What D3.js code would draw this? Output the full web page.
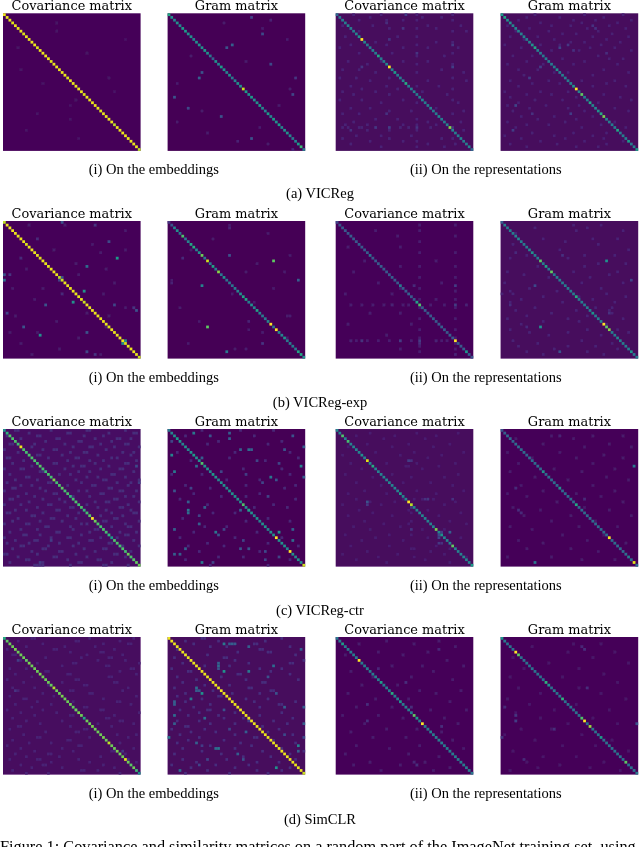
<!DOCTYPE html>
<html><head><meta charset="utf-8">
<script src="https://cdn.jsdelivr.net/npm/d3@7"></script>
<style>html,body{margin:0;padding:0;background:#fff;overflow:hidden}svg{display:block}</style>
</head><body><svg id="c" width="640" height="847"></svg>
<script>
// Labels
const panelTitles = ["Covariance matrix","Gram matrix","Covariance matrix","Gram matrix"];
const subCaptions = ["(i) On the embeddings","(ii) On the representations"];
const rowCaptions = ["(a) VICReg","(b) VICReg-exp","(c) VICReg-ctr","(d) SimCLR"];
const figureCaption = "Figure 1: Covariance and similarity matrices on a random part of the ImageNet training set, using";

// Matrix diagonals (50 cells, colour value 0..1)
const d00 = [.97,.97,.97,.95,.97,.97,.97,.95,.97,.97,.97,.97,.95,.97,.97,.97,.97,.95,.97,.97,.97,.97,.97,.95,.97,.97,.97,.97,.97,.95,.97,.97,.97,.97,.97,.95,.97,.97,.97,.97,.9,.97,.97,.97,.97,.97,.97,.97,.97,.9];
const d01 = [.6,.5,.45,.5,.45,.55,.55,.5,.5,.45,.5,.5,.5,.55,.5,.4,.3,.5,.45,.55,.5,.45,.5,.4,.45,.5,.5,.92,.55,.5,.55,.5,.5,.55,.45,.45,.55,.45,.55,.5,.55,.45,.5,.5,.45,.4,.45,.55,.68,.4];
const d02 = [.35,.4,.42,.42,.45,.42,.42,.45,.5,1,.45,.42,.42,.45,.42,.6,.42,.42,.45,1,.45,.55,.42,.42,.45,.62,.42,.42,.45,.42,.42,.45,.42,.42,.45,.42,.42,.45,.42,.42,.45,.82,.45,.42,.42,.45,.42,.42,.45,.35];
const d03 = [.55,.6,.5,.5,.45,.45,.45,.45,.45,.42,.45,.5,.6,.45,.42,.4,.42,.42,.42,.42,.5,.42,.42,.42,.42,.45,.5,1,.45,.75,.42,.42,.6,.45,.45,.5,.62,.8,.45,.42,.42,.42,.6,.42,.42,.42,.55,.42,.45,.55];
const d10 = [.9,.97,.97,.97,.97,.97,.97,.97,.95,.97,.97,.97,.97,.95,.97,.97,.97,.97,.97,.97,.9,.92,.97,.97,.97,.97,.97,.97,.97,.92,.97,.97,.97,.97,.97,.97,.97,.97,.95,.97,.97,.97,.97,.97,.95,.97,.97,.97,.97,.92];
const d11 = [.15,.25,.45,.5,.4,.72,.4,.45,.6,.62,.45,.5,.78,.4,.92,.4,.58,.42,.82,.4,.5,.38,.4,.38,.42,.45,.5,.58,.6,.42,.5,.45,.58,.45,.4,.4,.45,1,.4,1,.45,.45,.5,.4,.42,.42,.4,.58,.6,.5];
const d12 = [.2,.25,.28,.28,.28,.3,.28,.28,.3,.28,.28,.3,.38,.28,.28,.28,.3,.28,.28,.28,.3,.28,.28,.42,.28,.28,.3,.28,.28,.58,.72,.28,.3,.28,.28,.3,.28,.28,.3,.28,.28,.3,.28,1,.28,.28,.3,.52,.3,.25];
const d13 = [.3,.45,.42,.42,.42,.45,.45,.42,.42,.42,.45,.5,.42,.42,.75,.42,.58,.42,.76,.42,.42,.42,.42,.42,.42,.42,.42,.62,.42,.42,.42,.42,.42,.52,.42,.42,.45,1,.75,.82,.42,.42,.45,.42,.42,.42,.42,.52,.42,.42];
const d20 = [.5,.65,.72,.72,.72,.7,.98,.72,.7,.72,.72,.72,.7,.74,.7,.68,.72,.7,.82,.7,.72,.75,.7,.72,.66,.7,.72,.7,.72,.66,.7,.74,1,.78,.72,.7,.72,.7,.66,.55,.72,.72,.7,.72,.7,.78,.72,.74,.76,.78];
const d21 = [.4,.45,.5,.55,.5,.45,.5,.45,.5,.55,.5,.5,.72,.5,.5,.45,.55,.5,.45,.5,.5,.45,.5,.5,.5,.5,.5,.72,.5,.58,.5,.45,.5,.45,.5,.5,.45,.5,.5,1,.5,.5,.5,.45,1,.5,.45,.5,.5,.92];
const d22 = [.45,.45,.72,.45,.7,.45,.45,.45,.45,.5,.45,.95,.45,.62,.45,.45,.45,.45,.45,.45,.45,.45,.45,.55,.45,.45,1,.9,.45,.45,.45,.45,.45,.45,.45,.45,.8,.45,.52,.45,.45,.45,.76,.45,.45,.45,.45,.45,.45,.55];
const d23 = [.25,.3,.35,.35,.32,.35,.35,.35,.35,.32,.35,.35,.35,.35,.35,.5,.35,.35,.35,.35,.35,.5,.35,.35,.35,.35,.35,.6,.35,.35,.35,.35,.35,.35,.35,.35,.35,.35,.35,1,.35,.35,.35,.35,.35,.35,.42,.35,.96,.35];
const d30 = [.62,.75,.78,.78,.8,.78,.78,.78,.76,.8,.78,.78,.78,.8,.78,.78,.78,.76,.88,.78,.78,.8,.78,.78,.78,.76,.78,.8,.78,.6,.78,.78,.8,.78,.78,.78,.8,.78,.9,.78,.78,.8,.78,.78,.96,.78,.74,.78,.68,.48];
const d31 = [.97,.97,.97,.97,.97,.97,.97,.97,.97,.97,.97,.97,.97,.97,.97,.97,.97,.97,.97,.97,.97,.97,.97,.97,.97,.97,.97,.97,.97,.97,.97,.97,.97,.97,.97,.97,.97,.97,.97,.97,.97,.97,.97,.97,.97,.97,.97,.97,.97,.92];
const d32 = [.4,.42,.56,.42,.42,.42,.42,.42,1,.42,.42,.42,.42,.42,.42,.42,.56,.42,.42,.42,.62,.42,.42,.52,.42,.42,.42,.42,.75,.56,.42,1,.42,.42,.42,.42,.42,.42,.42,.42,.42,.42,.42,.42,.42,.42,.42,.42,.42,.4];
const d33 = [.52,.4,.38,.38,.38,1,.75,.38,.38,.38,.38,.38,.38,.38,.38,.38,.65,.5,.38,.42,.38,.38,.65,.38,.38,.38,.38,.38,.38,.72,1,.38,.85,.38,.38,.38,.55,.38,.38,.38,.38,.38,.38,.38,.38,.75,.38,.38,.38,.4];

// Bright off-diagonal cells: [row, column, value]
const s00 = [];
const s01 = [[1,30,.2],[7,34,.22],[11,23,.3],[12,21,.25],[18,37,.22],[21,12,.25],[23,11,.3],[23,46,.15],[29,45,.2],[30,2,.25],[34,7,.22],[37,19,.25],[45,30,.25],[2,37,.1],[49,45,.12],[46,25,.1]];
const s02 = [[9,19,.15],[19,9,.15],[41,19,.18],[41,14,.16],[41,29,.15],[19,42,.18],[11,42,.16],[14,29,.15],[5,24,.15],[0,25,.18],[3,18,.13],[41,42,.15],[36,18,.14],[42,5,.14]];
const s03 = [[12,21,.2],[11,24,.16],[19,14,.18],[23,10,.18],[4,33,.14],[5,34,.14],[33,5,.2],[36,25,.18],[42,4,.18],[36,11,.14],[13,26,.14],[14,38,.13]];
const s10 = [[13,41,.55],[16,30,.35],[25,29,.5],[29,25,.5],[30,15,.25],[41,13,.5],[44,43,.5],[43,44,.5],[21,0,.35],[19,0,.25],[7,38,.22],[1,33,.15],[0,21,.25],[32,48,.25],[30,40,.2],[38,7,.25],[40,30,.25],[47,30,.2],[48,33,.15],[20,21,.25],[21,20,.2],[13,6,.12],[6,12,.12],[19,2,.15],[31,47,.15],[33,1,.2],[26,21,.12]];
const s11 = [[14,38,.75],[12,22,.25],[23,12,.45],[38,14,.75],[47,21,.4],[21,47,.3],[44,34,.15],[13,5,.12],[34,44,.08],[2,22,.1],[22,1,.1],[36,29,.1],[40,34,.08],[46,28,.08]];
const s12 = [[43,5,.1],[43,9,.14],[43,23,.17],[43,30,.17],[43,36,.1],[30,43,.17],[23,43,.17],[48,43,.1],[44,30,.13],[23,28,.12],[30,20,.1],[30,47,.1]];
const s13 = [[14,38,.5],[38,14,.5],[23,12,.22],[21,47,.2],[47,21,.25],[12,22,.14],[11,5,.12],[33,39,.14],[38,9,.12],[30,3,.13]];
const s20 = [[13,48,.22],[19,49,.18],[40,17,.18],[48,13,.18]];
const s21 = [[1,9,.4],[2,15,.25],[1,22,.3],[3,22,.3],[9,1,.45],[7,29,.35],[7,30,.3],[7,26,.3],[13,48,.45],[6,49,.3],[15,2,.4],[13,10,.35],[17,37,.4],[18,39,.25],[19,34,.2],[17,49,.3],[22,2,.25],[26,7,.3],[29,7,.4],[30,7,.35],[28,13,.3],[29,26,.3],[29,29,.3],[36,2,.3],[34,11,.3],[37,17,.4],[38,18,.25],[36,20,.2],[37,40,.5],[36,45,.3],[40,45,.35],[45,2,.3],[43,6,.3],[45,4,.3],[48,12,.4],[43,29,.25],[43,26,.25],[48,16,.2],[47,35,.2],[46,40,.2],[15,19,.2],[2,45,.25],[7,42,.25],[11,32,.2],[4,1,.2],[10,12,.3],[24,36,.2],[31,11,.2],[40,27,.2],[44,35,.22],[21,8,.2],[16,28,.18],[12,40,.2]];
const s22 = [[26,11,.25],[11,26,.18],[37,41,.3],[38,37,.22],[41,37,.16],[36,27,.15],[25,33,.16],[25,32,.14],[39,37,.2],[27,11,.16],[41,38,.14],[37,38,.18],[28,27,.15],[11,27,.14],[25,42,.14]];
const s23 = [[13,48,.4],[48,12,.4],[30,7,.12],[29,6,.13],[21,5,.12],[2,21,.1],[25,30,.12]];
const s30 = [[8,5,.18],[19,4,.15],[26,26,.18],[41,43,.16],[44,45,.14]];
const s31 = [[2,23,.3],[2,22,.28],[2,24,.28],[10,18,.35],[12,20,.5],[12,29,.4],[18,10,.35],[20,12,.5],[23,2,.3],[24,2,.3],[22,8,.4],[28,2,.35],[31,2,.3],[36,0,.4],[29,13,.35],[40,18,.4],[40,17,.35],[39,47,.45],[41,47,.3],[47,39,.5],[2,20,.4],[3,29,.3],[4,48,.3],[10,38,.35],[20,39,.25],[25,42,.3],[25,49,.3],[31,49,.3],[34,28,.3],[38,10,.3],[48,4,.35],[42,25,.3],[9,18,.3],[11,18,.25],[19,10,.3],[19,11,.28],[6,6,.18],[14,36,.25],[26,20,.25],[35,42,.22],[44,27,.25],[36,49,.22],[44,14,.2],[33,22,.2],[39,12,.18],[46,11,.2],[30,29,.18]];
const s32 = [[16,25,.13],[24,11,.13],[25,27,.13],[4,37,.11],[30,11,.13],[32,38,.13],[46,29,.13],[45,28,.11],[11,15,.11]];
const s33 = [[31,49,.25],[30,5,.18],[36,0,.15],[28,5,.15],[25,1,.12],[4,30,.13],[3,29,.11],[44,8,.12],[18,31,.13],[33,19,.13]];

// Faint speckle cells per row: [row, column, column, ...]
const f00 = [[3,19],[6,19],[9,44],[12,5],[14,30],[20,6],[23,38],[25,14],[28,40],[31,26],[33,24],[36,12],[38,24],[42,8],[45,27]];
const f01 = [[3,20],[5,34],[9,43],[15,8],[17,28],[25,3],[27,44],[33,40],[35,12],[39,3],[41,33],[43,14],[47,36]];
const f02 = [[0,6,16,29,42],[1,12,31,38],[2,8,18,24,29,42],[4,2,13,33,45],[5,19,29,36],[6,8,42,47],[8,3,22,29],[10,14,36,42],[11,5,18,29],[12,1,24,33,44],[14,8,20,42],[15,29,39],[17,4,16,24,33],[18,11,29,42],[20,2,8,38],[21,14,29,46],[23,1,7,19,42],[24,12,33,47],[26,5,18,29,37],[27,9,22,42],[28,2,14,31],[29,6,19,40],[31,1,9,24,42],[32,16,29,44],[34,5,12,36],[35,19,27,46],[36,2,8,42],[38,14,22,29],[39,6,33,45],[40,3,11,24,29,36],[41,2,4,8,9,23,26,34],[42,11,19,29,46],[44,7,16,27],[45,2,19,38,42],[46,12,24,29],[47,5,33,43],[48,16,29,39]];
const f03 = [[0,12,30,44],[1,9,21,37],[2,6,26,34,47],[3,14,29,42],[4,2,18,25,39],[5,10,31,45],[6,5,17,35],[7,22,27,40],[8,3,13,33,46],[9,8,19,38],[10,25,30,43],[11,1,14,21,36],[12,7,32,41],[13,18,28,47],[15,4,11,35],[16,22,39,44],[17,9,30],[18,2,15,26,42],[20,6,13,37],[21,19,24,46],[22,8,33],[24,3,17,29,41],[25,11,21,38],[26,6,33,45],[28,1,14,24],[29,9,18,37],[30,3,27,43],[31,12,22,47],[32,6,35],[33,2,16,28],[34,10,24,41],[35,4,30,46],[37,7,19,33],[38,13,27],[39,2,23,41],[40,9,17,36],[41,5,29,45],[43,11,26,38],[44,1,19,33],[45,7,23,37],[46,14,30,44],[47,3,20,38],[48,9,27,35]];
const f10 = [[1,9,22],[3,44],[5,5],[8,32],[10,18,44],[11,35],[15,26],[17,8,37],[19,27],[22,40],[24,3,14],[26,36],[28,11],[31,44],[33,30],[34,4,38],[36,19],[38,37],[40,2,12],[42,27],[44,6],[46,20],[48,10,35]];
const f11 = [[1,22],[4,36],[6,16],[10,8],[12,44],[15,32],[18,28,42],[21,1],[24,38],[26,23],[29,31],[31,4],[34,43],[36,11],[39,29],[42,43],[44,7],[46,24]];
const f12 = [[1,30,43],[3,14,30],[5,22,43],[7,30],[9,4,23],[11,30,43],[14,10,36],[16,23,30,43],[18,6],[20,30,43],[22,15,38],[24,23,30],[25,43],[26,3,20],[28,30,36,43],[30,5,9,13,17,24,26,34,39],[31,30,43],[33,12,23],[35,30,43],[37,4,27],[39,30,43],[41,18],[42,30,43],[43,7,11,15,19,27,38,40],[44,43],[45,30],[46,43,23],[47,30]];
const f13 = [[1,26,36],[2,12,31],[3,27,44],[4,5],[6,15,33,42],[7,23],[8,4,35],[10,21,46],[12,9,30,41],[13,3,24],[15,35,45],[16,13,30],[18,2,26,42],[19,8,39],[20,17,32],[22,1,29,44],[24,10,36],[25,3,20],[26,0,4,38],[27,15,28,45],[28,7,33],[29,3,22,41],[31,12,34,40],[32,5,27,39],[33,18,40],[34,9,31],[35,2,24,44],[36,15,28],[37,7,38],[39,3,31,42],[40,10,24,46],[41,17,36],[43,4,29],[44,13,40],[45,6,24,34],[46,19,42],[47,9,31],[48,15,37]];
const f20 = [[0,4,5,17,30,31,44],[1,9,23,24,38,47,48],[2,1,12,13,29,36],[3,6,19,20,33,41,42,46],[4,15,27,28,39],[5,2,3,11,22,35,44,45],[6,10,25,31,32,40,49],[7,0,14,18,19,37],[8,5,24,29,30,43,47],[9,12,13,21,34,46],[10,1,2,16,26,27,39,41],[11,7,23,31,36,48],[12,3,18,19,33,44,45],[13,10,25,28,29,38],[14,0,6,7,22,35,42,43],[15,13,14,27,31,47],[16,2,20,24,39,40],[17,8,9,30,34,44],[18,4,12,26,36,37,49],[19,1,16,17,28,41,46],[20,6,10,23,32,33,45],[21,3,4,13,38,39],[22,0,15,27,30,42,43,48],[23,8,18,19,35,36],[24,5,11,25,31,44,47],[25,2,3,14,20,40,41],[26,9,22,33,37,38,49],[27,0,6,16,17,30,45],[28,12,24,25,34,42,43],[29,4,8,19,20,37,46],[30,1,2,14,27,39,47,48],[31,10,11,23,35,43],[32,5,17,18,26,40,41],[33,3,13,21,36,37,49],[34,0,8,9,28,30,44],[35,15,16,24,39,45,46],[36,6,12,25,33,34],[37,2,19,20,31,42,48],[38,7,8,13,28,44,45],[39,0,17,23,24,35,41],[40,4,11,12,31,32,47],[41,1,9,20,27,38,39],[42,6,7,16,25,43,49],[43,3,14,15,29,36,37],[44,10,20,21,33,46],[45,0,1,12,26,40,41],[46,5,18,19,30,44],[47,8,9,23,34,35,47],[48,2,14,27,28,39],[49,11,12,13,14,24,36,37,45]];
const f21 = [[0,12,26,38],[2,6,31],[4,18,41],[5,14,36],[8,3,24,44],[10,22,47],[11,8,35],[14,27,41],[16,1,12,44],[18,21,33],[20,6,28,46],[21,15,42],[23,9,33],[24,19,28],[25,4,46],[27,14,38],[28,31,43],[30,16,24],[32,5,36],[33,28,44],[35,13,21],[37,9,32],[39,4,24,41],[41,14,36],[42,7,20,47],[44,11,33],[46,18,27],[47,6,44],[49,15,36]];
const f22 = [[1,12,29,44],[2,7,21,36],[3,17,32],[5,11,26,41],[6,4,20,35],[8,14,28,46],[9,2,23,38],[10,10,33],[12,5,18,29,43],[13,25,26,37],[14,9,31],[16,3,20,44],[17,13,27,39],[19,7,24,34],[20,16,42],[22,10,29,46],[23,4,18,36],[25,7,24,28,31,35],[26,12,21,43],[27,2,16,39],[29,8,26,33],[30,13,27,45],[31,4,20,37],[33,10,27,41],[34,17,26,47],[35,6,23],[36,12,31,39],[38,3,19,27],[39,14,33,45],[40,9,24],[42,5,19,36],[43,27,28,41],[44,11,34],[45,2,22,39],[46,15,28,47],[47,7,32],[48,18,41]];
const f23 = [[2,18,33,44],[3,5,26],[5,15,39],[6,30,47],[8,2,21],[9,37],[10,11,27,44],[12,6,33],[14,19,41],[15,3,29],[17,12,38],[18,24,46],[20,7,33],[22,15,41],[23,2,27],[24,9,36],[26,20,44],[28,4,30],[29,14,39],[31,8,25,47],[33,18,34],[35,3,28,42],[36,11],[38,22,37],[40,6,31],[41,15,45],[43,9,25],[44,35],[46,2,18],[47,29,41]];
const f30 = [[0,10,11,31,47],[1,5,26,27,42],[2,14,36,45,46],[3,8,22,33],[4,1,18,19,40],[5,24,35,36],[6,3,4,30,43],[7,15,28,38,39],[8,6,34,44],[9,12,25,26,49],[10,21,37,38],[11,2,8,46,47],[12,15,16,42],[13,4,23,24,48],[14,10,38,39],[15,1,26,27],[16,7,21,40,41],[17,16,29,30],[18,3,11,45],[19,5,24,25,43],[20,14,31,32],[21,2,18,48],[22,7,8,36],[23,12,25,41,42],[24,4,17,46],[25,10,29,30],[26,1,14,35,36],[27,6,19,49],[28,11,24,25,40],[29,3,37,38],[30,8,21,42,43],[31,13,34,47],[32,5,6,24,39],[33,2,29,30],[34,15,26,27],[35,7,41,48],[36,12,13,31,45],[37,3,23,24],[38,9,17,42],[39,1,27,28],[40,6,21,47],[41,11,25,39,40],[42,4,16,17,44],[43,8,20,35],[44,2,12,13,27],[45,17,31,48],[46,6,14,15,36],[47,10,21,40],[48,3,28,29,34],[49,8,16,42]];
const f31 = [[0,12,13,41],[1,6,18,35],[2,9,31,32],[3,15,21,44],[4,3,33,34],[5,25,36,37],[6,14,46],[7,2,20,21],[8,8,24,49],[9,5,29,44,45],[10,13,22],[11,1,33,41],[12,7,8,37],[13,25,26,44],[14,3,19],[15,10,28,47],[16,5,34,35],[17,13,22],[18,2,29,30],[19,16,37,38],[20,6,23,33],[21,3,18,19],[22,12,28,36],[23,6,31,46],[24,15,40,41],[25,9,33],[26,4,14,15],[27,11,24,41],[28,7,18,33],[29,20,27,45],[30,3,11,38],[31,15,24,43],[32,6,7,34],[33,1,13,40],[34,8,17,36],[35,4,24,45],[36,11,31,32],[37,7,20,38],[38,3,26,46],[39,15,30],[40,5,24,41],[41,12,34,49],[42,2,19,44],[43,27,37],[44,5,21,46],[45,10,32,40],[46,1,17,29],[47,8,24,44],[48,14,32,41],[49,6,22,36]];
const f32 = [[1,18,37],[2,8,28],[3,43],[5,15,33],[6,3,24],[8,40],[10,20,31,46],[12,5,35],[14,13,27],[15,42],[17,9,22],[19,30,45],[20,4,36],[22,14,26],[23,41],[25,7,20],[26,34,47],[28,2,15],[29,24,39],[31,10,44],[33,18,29],[34,5,38],[36,13,25],[37,42],[39,7,30],[40,19,46],[42,3,26],[43,37],[45,12,32],[46,6,23],[47,41],[48,16,35]];
const f33 = [[2,26,36],[3,11],[5,24,41],[7,4,33],[9,17,46],[11,8,28],[13,37],[14,3,22],[16,42],[18,6,28],[20,14,36],[22,2,45],[24,10,27],[26,19,39],[27,5],[29,14,33],[31,24,42],[33,7,18],[35,1,29],[37,12,40],[39,22,34],[41,4,46],[43,15,27],[45,9,37],[46,21],[47,13,32],[48,3,43]];

// Background level, faint-cell level for every matrix
const bases  = [.015,.0, .025,.025, .015,.0, .015,.025, .04,.0, .025,.015, .03,.025, .015,.015];
const levels = [.05,.07,.10,.09, .07,.07,.08,.10, .13,.11,.085,.07, .10,.13,.075,.065];
const diags  = [d00,d01,d02,d03,d10,d11,d12,d13,d20,d21,d22,d23,d30,d31,d32,d33];
const spots  = [s00,s01,s02,s03,s10,s11,s12,s13,s20,s21,s22,s23,s30,s31,s32,s33];
const faints = [f00,f01,f02,f03,f10,f11,f12,f13,f20,f21,f22,f23,f30,f31,f32,f33];

const xLeft = [3,167.6,335.7,500.6], yTop = [13.3,221,429,637], side = 137.6;
const captionY = [174,382,590,798], rowCapY = [198,407,615,824];
const indices = d3.range(50);
const color = d3.scaleSequential(d3.interpolateViridis).domain([0,1]);

const svg = d3.select("#c");
const defs = svg.append("defs");
defs.append("filter").attr("id","soft").attr("x","-5%").attr("y","-5%").attr("width","110%").attr("height","110%")
  .append("feGaussianBlur").attr("stdDeviation",0.32);
defs.append("filter").attr("id","softText").attr("x","-5%").attr("y","-20%").attr("width","110%").attr("height","140%")
  .append("feGaussianBlur").attr("stdDeviation",0.25);
svg.append("rect").attr("width",640).attr("height",847).attr("fill","#fff");

diags.forEach((diag,k)=>{
  const r = Math.floor(k/4), c = k%4;
  const x = d3.scaleBand().domain(indices).range([xLeft[c],xLeft[c]+side]);
  const y = d3.scaleBand().domain(indices).range([yTop[r],yTop[r]+side]);
  const cells = [];
  faints[k].forEach(([row,...cols])=>cols.forEach(col=>cells.push([row,col,levels[k]])));
  spots[k].forEach(s=>cells.push(s));
  diag.forEach((v,i)=>cells.push([i,i,v]));
  const g = svg.append("g").attr("filter","url(#soft)");
  g.append("rect").attr("x",x.range()[0]).attr("y",y.range()[0]).attr("width",side).attr("height",side).attr("fill",color(bases[k]));
  g.selectAll("rect.cell").data(cells).join("rect").attr("class","cell")
    .attr("x",d=>x(d[1])).attr("y",d=>y(d[0])).attr("width",x.bandwidth()).attr("height",y.bandwidth())
    .attr("fill",d=>color(d[2]));
  svg.append("text").attr("x",xLeft[c]+side/2).attr("y",yTop[r]-2.9)
    .attr("text-anchor","middle").attr("font-family","DejaVu Serif").attr("font-size",12.9)
    .attr("filter","url(#softText)").text(panelTitles[c]);
});

const serif = "Liberation Serif";
captionY.forEach((cy,r)=>{
  [[153.8,0],[485.8,1]].forEach(([cx,i])=>{
    svg.append("text").attr("x",cx).attr("y",cy).attr("text-anchor","middle")
      .attr("font-family",serif).attr("font-size",14.5).attr("filter","url(#softText)").text(subCaptions[i]);
  });
  svg.append("text").attr("x",320).attr("y",rowCapY[r]).attr("text-anchor","middle")
    .attr("font-family",serif).attr("font-size",14.5).attr("filter","url(#softText)").text(rowCaptions[r]);
});
svg.append("text").attr("x",0).attr("y",851.5).attr("font-family",serif).attr("font-size",16.3)
  .attr("filter","url(#softText)").text(figureCaption);
</script></body></html>
